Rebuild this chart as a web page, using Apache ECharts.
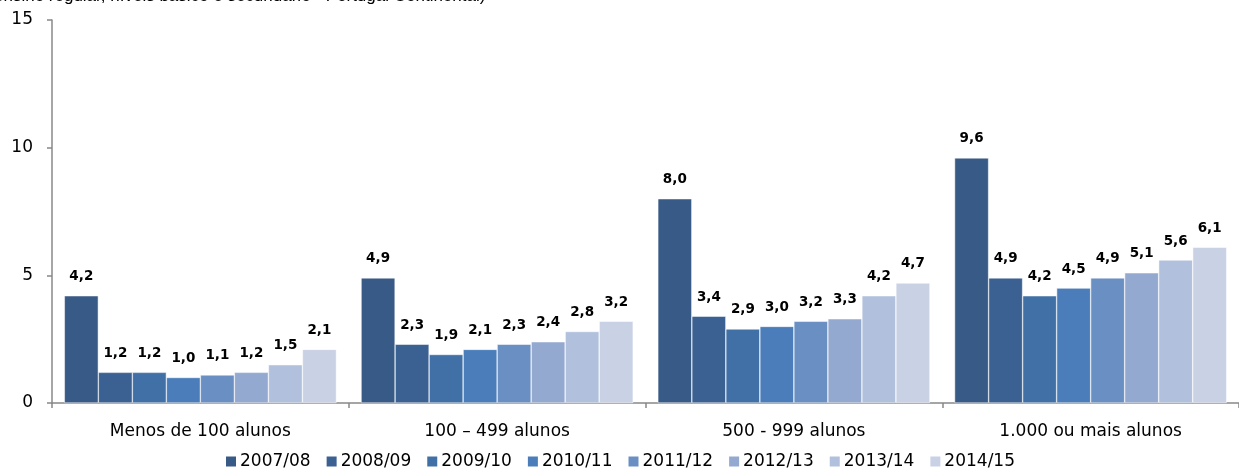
<!DOCTYPE html>
<html>
<head>
<meta charset="utf-8">
<script src="https://cdn.jsdelivr.net/npm/echarts@6/dist/echarts.min.js"></script>
<style>
  html, body { margin: 0; padding: 0; background: #fff; }
  #myChart { width: 1239px; height: 471px; }
</style>
</head>
<body>
<div id="myChart"></div>
<script>
// categorias (dimensão da escola)
var categorias = ['Menos de 100 alunos', '100 – 499 alunos', '500 - 999 alunos', '1.000 ou mais alunos'];
var anos = ['2007/08', '2008/09', '2009/10', '2010/11', '2011/12', '2012/13', '2013/14', '2014/15'];

// valores por ano lectivo
var v2007_08 = [4.2, 4.9, 8.0, 9.6];
var v2008_09 = [1.2, 2.3, 3.4, 4.9];
var v2009_10 = [1.2, 1.9, 2.9, 4.2];
var v2010_11 = [1.0, 2.1, 3.0, 4.5];
var v2011_12 = [1.1, 2.3, 3.2, 4.9];
var v2012_13 = [1.2, 2.4, 3.3, 5.1];
var v2013_14 = [1.5, 2.8, 4.2, 5.6];
var v2014_15 = [2.1, 3.2, 4.7, 6.1];

var valores = [v2007_08, v2008_09, v2009_10, v2010_11, v2011_12, v2012_13, v2013_14, v2014_15];
var cores = ['#385A86', '#3B6193', '#4170A7', '#4A7DB9', '#6A8FC3', '#94A9D0', '#B0C0DD', '#C9D1E5'];

var fonte = 'DejaVu Sans';

var series = anos.map(function (ano, i) {
  return {
    name: ano,
    type: 'bar',
    barGap: '0%',
    barCategoryGap: '8.3%',
    itemStyle: { color: cores[i], borderColor: '#fff', borderWidth: 0.5 },
    label: {
      show: true,
      position: 'top',
      distance: 12,
      fontFamily: fonte,
      fontWeight: 'bold',
      fontSize: 13.5,
      color: '#000',
      formatter: function (p) { return p.value.toFixed(1).replace('.', ','); }
    },
    data: valores[i]
  };
});

var myChart = echarts.init(document.getElementById('myChart'));
myChart.setOption({
  animation: false,
  title: {
    text: 'ensino regular, níveis básico e secundário - Portugal Continental)',
    left: -11,
    top: -17,
    textStyle: { fontFamily: 'Liberation Sans', fontSize: 17, fontWeight: 'normal', color: '#000' }
  },
  legend: {
    bottom: -4,
    left: 'center',
    icon: 'rect',
    itemWidth: 12,
    itemHeight: 12,
    itemGap: 14,
    textStyle: { fontFamily: fonte, fontSize: 17, color: '#000', padding: [0, 0, 0, -2] },
    data: anos
  },
  grid: { left: 52, top: 20, bottom: 68, width: 1200 },
  xAxis: {
    type: 'category',
    data: categorias,
    axisLine: { lineStyle: { color: '#888', width: 1.5 } },
    axisTick: { show: true, length: 5, lineStyle: { color: '#888', width: 1.5 } },
    axisLabel: { margin: 20, fontFamily: fonte, fontSize: 17, color: '#000' }
  },
  yAxis: {
    type: 'value',
    min: 0,
    max: 15,
    interval: 5,
    splitLine: { show: false },
    axisLine: { show: true, lineStyle: { color: '#888', width: 1.5 } },
    axisTick: { show: true, length: 5, lineStyle: { color: '#888', width: 1.5 } },
    axisLabel: { margin: 19, fontFamily: fonte, fontSize: 17, color: '#000' }
  },
  series: series
});
</script>
</body>
</html>
